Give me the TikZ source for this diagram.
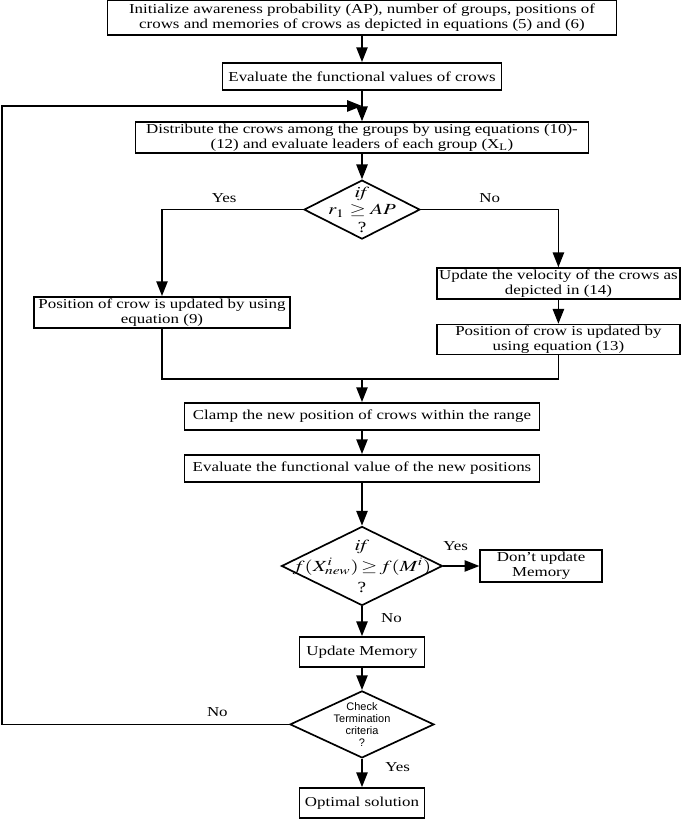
\documentclass[tikz,border=0pt]{standalone}
\usepackage{mathptmx}
\usepackage{graphicx}
\usepackage{fontspec}
\setmainfont{Liberation Serif}[FakeStretch=1.24]
\newfontfamily\termfont{Liberation Sans}
\usepackage{tikz}
\usetikzlibrary{shapes.geometric, arrows.meta, positioning, calc}
\newcommand{\widemath}[1]{\scalebox{1.35}[1]{$#1$}}
\tikzset{
  block/.style={rectangle, draw=black, line width=1.2pt, align=center,
    inner sep=1pt, font=\fontsize{9.7}{10.4}\selectfont},
  decision/.style={diamond, draw=black, line width=1.2pt, align=center,
    inner sep=-20pt, font=\fontsize{11}{12.5}\selectfont},
  arrow/.style={-{Triangle[length=10.5pt, width=8pt]}, line width=1.2pt},
  line/.style={line width=1.2pt},
  lbl/.style={font=\fontsize{9.7}{10.4}\selectfont, inner sep=1pt}
}
\begin{document}
\begin{tikzpicture}
  \useasboundingbox (0,0) rectangle (17.125,20.5);

  % Initialisation and first evaluation
  \node[block, minimum width=12.725cm, minimum height=0.875cm] (init) at (9.05,20.06)
    {Initialize awareness probability (AP), number of groups, positions of\\
     crows and memories of crows as depicted in equations (5) and (6)};
  \node[block, minimum width=6.975cm, minimum height=0.675cm] (evalc) at (9.05,18.59)
    {Evaluate the functional values of crows};
  \node[block, minimum width=11.325cm, minimum height=0.775cm] (distr) at (9.05,17.06)
    {Distribute the crows among the groups by using equations (10)-\\
     (12) and evaluate leaders of each group (X\textsubscript{L})};
  \coordinate (join) at ($(evalc.south)!0.5!(distr.north)$);

  % Awareness probability test
  \node[decision, minimum width=2.9cm, minimum height=1.475cm] (dec1) at (9.05,15.26)
    {\widemath{\mathit{if}}\\ \widemath{r_1 \geq AP}\\ ?};

  % Position updates
  \node[block, minimum width=6.4cm, minimum height=0.775cm] (posA) at (4.05,12.69)
    {Position of crow is updated by using\\ equation (9)};
  \node[block, minimum width=6.075cm, minimum height=0.775cm] (vel) at (13.96,13.41)
    {Update the velocity of the crows as\\ depicted in (14)};
  \node[block, minimum width=6.075cm, minimum height=0.725cm] (posB) at (13.96,12.01)
    {Position of crow is updated by\\ using equation (13)};
  \coordinate (merge) at (9.05,11.025);

  % Clamp and evaluate
  \node[block, minimum width=8.875cm, minimum height=0.675cm] (clamp) at (9.05,10.09)
    {Clamp the new position of crows within the range};
  \node[block, minimum width=8.875cm, minimum height=0.675cm] (evaln) at (9.05,8.79)
    {Evaluate the functional value of the new positions};

  % Memory test
  \node[decision, minimum width=4.025cm, minimum height=1.95cm,
    font=\fontsize{11}{15}\selectfont] (dec2) at (9.05,6.35)
    {\widemath{\mathit{if}}\\ \widemath{f(X^{i}_{new})\!\geq\! f(M^{i})}\\ ?};
  \node[block, minimum width=3.05cm, minimum height=0.8cm] (keep) at (13.53,6.35)
    {Don't update\\ Memory};
  \node[block, minimum width=3.125cm, minimum height=0.75cm] (updm) at (9.05,4.2)
    {Update Memory};

  % Termination
  \node[decision, minimum width=3.6cm, minimum height=1.675cm,
    font=\termfont\fontsize{7.8}{8.4}\selectfont] (dec3) at (9.05,2.39)
    {Check\\ Termination\\ criteria\\ ?};
  \node[block, minimum width=3.125cm, minimum height=0.75cm] (opt) at (9.05,0.425)
    {Optimal solution};
  \coordinate (edge) at (0.05,0);

  % Connections
  \draw[arrow] (init) -- (evalc);
  \draw[arrow] (evalc) -- (distr);
  \draw[arrow] (distr) -- (dec1);
  \draw[arrow] (dec1.west) -| node[lbl, above=3pt, pos=0.28] {Yes} (posA.north);
  \draw[arrow] (dec1.east) -| node[lbl, above=3pt, pos=0.25] {No} (vel.north);
  \draw[arrow] (vel) -- (posB);
  \draw[line] (posA.south) |- (merge) -| (posB.south);
  \draw[arrow] (merge) -- (clamp);
  \draw[arrow] (clamp) -- (evaln);
  \draw[arrow] (evaln) -- (dec2);
  \draw[arrow] (dec2) -- node[lbl, above=9pt, pos=0.34] {Yes} (keep);
  \draw[arrow] (dec2) -- node[lbl, right=12pt, pos=0.4] {No} (updm);
  \draw[arrow] (updm) -- (dec3);
  \draw[arrow] (dec3) -- node[lbl, right=15pt, pos=0.3] {Yes} (opt);
  \draw[arrow] (dec3.west) -- node[lbl, above=4pt, pos=0.25] {No} (dec3.west -| edge) |- (join);
\end{tikzpicture}
\end{document}
